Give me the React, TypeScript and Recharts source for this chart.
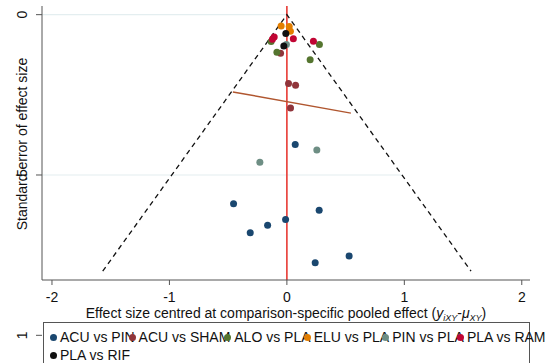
import { ScatterChart, Scatter, XAxis, YAxis, ReferenceLine, Legend } from 'recharts'

const FONT = '"Liberation Sans", Arial, Helvetica, sans-serif'

// effect size centred at comparison-specific pooled effect, and its standard error
const acuPinX = [0.071, -0.454, 0.275, -0.011, -0.164, -0.312, 0.241, 0.53]
const acuPinSE = [0.405, 0.59, 0.61, 0.639, 0.657, 0.68, 0.774, 0.753]

const acuShamX = [-0.054, 0.014, 0.074, 0.031]
const acuShamSE = [0.12, 0.215, 0.22, 0.291]

const aloPlaX = [-0.134, 0.277, -0.085, 0.198]
const aloPlaSE = [0.084, 0.093, 0.117, 0.141]

const eluPlaX = [-0.049, 0.02, 0.03]
const eluPlaSE = [0.035, 0.037, 0.052]

const pinPlaX = [-0.004, 0.255, -0.23]
const pinPlaSE = [0.093, 0.422, 0.46]

const plaRamX = [-0.108, -0.123, 0.055, 0.226]
const plaRamSE = [0.07, 0.077, 0.075, 0.083]

const plaRifX = [-0.009, -0.026]
const plaRifSE = [0.059, 0.098]

// pseudo 95% limits and the small-study regression line
const funnelX = [-1.568, 0, 1.568]
const funnelSE = [0.8, 0, 0.8]
const regX = [-0.46, 0.545]
const regSE = [0.241, 0.307]

const xTicks = [-2, -1, 0, 1, 2]
const yTicks = [0, 0.5, 1]

const names = ['ACU vs PIN', 'ACU vs SHAM', 'ALO vs PLA', 'ELU vs PLA', 'PIN vs PLA', 'PLA vs RAM', 'PLA vs RIF']
const colors = ['#1a476f', '#90353b', '#55752f', '#e37e00', '#6e8e84', '#c10534', '#111111']
const xs = [acuPinX, acuShamX, aloPlaX, eluPlaX, pinPlaX, plaRamX, plaRifX]
const ses = [acuPinSE, acuShamSE, aloPlaSE, eluPlaSE, pinPlaSE, plaRamSE, plaRifSE]

const toPoints = (x: number[], se: number[]) => x.map((v, i) => ({ x: v, se: se[i] }))

const series = names.map((name, i) => ({ name, color: colors[i], data: toPoints(xs[i], ses[i]) }))

const dot = (color: string) => (p: any) => <circle cx={p.cx} cy={p.cy} r={3.5} fill={color} />
const nothing = () => <g />

const fmtY = (v: number) => (v === 0 ? '0' : v === 1 ? '1' : String(v).replace(/^0/, ''))

const XTick = ({ x, payload }: any) => (
  <text x={x} y={301.5} textAnchor="middle" fontSize={14} fontFamily={FONT} fill="#111">
    {payload.value}
  </text>
)

const YTick = ({ y, payload }: any) => (
  <text x={27} y={y} transform={`rotate(-90 27 ${y})`} textAnchor="middle" fontSize={14} fontFamily={FONT} fill="#111">
    {fmtY(payload.value)}
  </text>
)

const XTitle = () => (
  <text x={286} y={318} textAnchor="middle" fontSize={14} fontFamily={FONT} fill="#111">
    Effect size centred at comparison-specific pooled effect (
    <tspan fontStyle="italic">y</tspan>
    <tspan fontStyle="italic" fontSize={9} dy={3}>iXY</tspan>
    <tspan dy={-3}>-</tspan>
    <tspan fontStyle="italic">μ</tspan>
    <tspan fontStyle="italic" fontSize={9} dy={3}>XY</tspan>
    <tspan dy={-3}>)</tspan>
  </text>
)

const YTitle = () => (
  <text x={27} y={144} transform="rotate(-90 27 144)" textAnchor="middle" fontSize={14} fontFamily={FONT} fill="#111">
    Standard error of effect size
  </text>
)

const Key = ({ color, left }: { color: string; left: number }) => (
  <span
    style={{
      position: 'absolute',
      left,
      top: 4.5,
      width: 7,
      height: 7,
      borderRadius: '50%',
      background: color,
    }}
  />
)

const LegendBox = () => {
  const first = series.slice(0, 6)
  const last = series[6]
  return (
    <div
      style={{
        position: 'relative',
        width: 487,
        height: 60,
        border: '1px solid #555',
        boxSizing: 'border-box',
        fontFamily: FONT,
        fontSize: 14,
        color: '#111',
        whiteSpace: 'nowrap',
        textAlign: 'left',
      }}
    >
      <div style={{ position: 'absolute', left: 6, top: 6, lineHeight: '16px' }}>
        {first.map((s, i) => (
          <span key={s.name} style={{ position: 'relative', paddingLeft: i === 0 ? 10 : 0 }}>
            {s.name}
            {i < first.length - 1 ? ' ' : ''}
            <Key color={s.color} left={i === 0 ? 0 : -1000} />
          </span>
        ))}
      </div>
      {/* keys of later columns sit over the end of the previous label */}
      <div style={{ position: 'absolute', left: 6, top: 6, lineHeight: '16px', pointerEvents: 'none' }}>
        {first.map((s, i) => (
          <span key={s.name} style={{ position: 'relative', paddingLeft: i === 0 ? 10 : 0, color: 'transparent' }}>
            {i > 0 ? <Key color={s.color} left={-10} /> : null}
            {s.name}
            {i < first.length - 1 ? ' ' : ''}
          </span>
        ))}
      </div>
      <div style={{ position: 'absolute', left: 6, top: 24, lineHeight: '16px' }}>
        <span style={{ position: 'relative', paddingLeft: 10 }}>
          <Key color={last.color} left={0} />
          {last.name}
        </span>
      </div>
    </div>
  )
}

export default function App() {
  return (
    <div style={{ position: 'absolute', left: 0, top: 0, width: 546, height: 363, background: '#fff', overflow: 'hidden' }}>
      <ScatterChart width={546} height={363} margin={{ top: 6, right: 16, bottom: 0, left: 0 }}>
        <XAxis
          type="number"
          dataKey="x"
          domain={[-2.085, 2.07]}
          ticks={xTicks}
          interval={0}
          allowDataOverflow
          height={83}
          tickSize={5}
          stroke="#555"
          tick={<XTick />}
          label={{ content: () => <XTitle /> }}
        />
        <YAxis
          type="number"
          dataKey="se"
          domain={[-0.027, 0.8275]}
          reversed
          ticks={yTicks}
          interval={0}
          allowDataOverflow
          width={42}
          tickSize={6}
          stroke="#555"
          tick={<YTick />}
          label={{ content: () => <YTitle /> }}
        />
        <ReferenceLine segment={[{ x: -2.085, y: 0 }, { x: 0, y: 0 }]} stroke="#e4eef0" strokeWidth={1.2} />
        <ReferenceLine segment={[{ x: -2.085, y: 0.5 }, { x: 0.98, y: 0.5 }]} stroke="#e4eef0" strokeWidth={1.2} />
        <ReferenceLine x={0} stroke="#e83a34" strokeWidth={1.6} />
        <Scatter
          name="funnel"
          data={toPoints(funnelX, funnelSE)}
          fill="#111"
          line={{ stroke: '#111', strokeWidth: 1.3, strokeDasharray: '5 4' }}
          lineType="joint"
          shape={nothing}
          legendType="none"
          isAnimationActive={false}
        />
        <Scatter
          name="regression"
          data={toPoints(regX, regSE)}
          fill="#b0562f"
          line={{ stroke: '#b0562f', strokeWidth: 1.4 }}
          lineType="joint"
          shape={nothing}
          legendType="none"
          isAnimationActive={false}
        />
        {series.map((s) => (
          <Scatter key={s.name} name={s.name} data={s.data} fill={s.color} shape={dot(s.color)} isAnimationActive={false} />
        ))}
        <Legend
          layout="horizontal"
          verticalAlign="middle"
          align="center"
          wrapperStyle={{ position: 'absolute', left: 43, top: 322, width: 487, height: 60 }}
          content={() => <LegendBox />}
        />
      </ScatterChart>
    </div>
  )
}
